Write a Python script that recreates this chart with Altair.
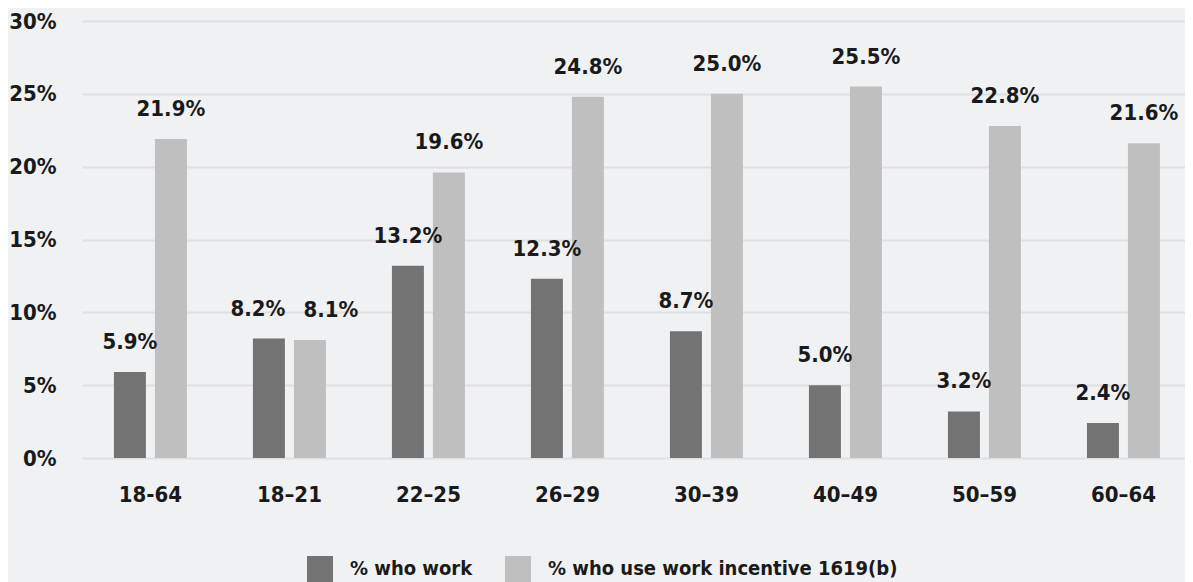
import altair as alt
import pandas as pd

categories = ["18-64", "18–21", "22–25", "26–29", "30–39", "40–49", "50–59", "60–64"]
series_names = ["% who work", "% who use work incentive 1619(b)"]
work = [5.9, 8.2, 13.2, 12.3, 8.7, 5.0, 3.2, 2.4]
incentive = [21.9, 8.1, 19.6, 24.8, 25.0, 25.5, 22.8, 21.6]

rows = []
for i, c in enumerate(categories):
    rows.append({"age": c, "series": series_names[0], "value": work[i]})
    rows.append({"age": c, "series": series_names[1], "value": incentive[i]})
df = pd.DataFrame(rows)

FONT = "Liberation Sans Narrow, DejaVu Sans Condensed, sans-serif"
TXT = "#1a1a1a"

x_scale = alt.Scale(domain=categories, paddingInner=0.475, paddingOuter=0.205, align=0.56)
off_scale = alt.Scale(domain=series_names, paddingInner=0.22, paddingOuter=0)
color_scale = alt.Scale(domain=series_names, range=["#737373", "#bfbfbf"])

base = alt.Chart(df).encode(
    x=alt.X("age:N", scale=x_scale, sort=categories,
            axis=alt.Axis(title=None, labelAngle=0, ticks=False, domain=False,
                          labelFont=FONT, labelFontSize=22, labelFontWeight="bold",
                          labelColor=TXT, labelPadding=26, grid=False)),
    xOffset=alt.XOffset("series:N", scale=off_scale, sort=series_names),
)

bars = base.mark_bar().encode(
    y=alt.Y("value:Q", scale=alt.Scale(domain=[0, 30], nice=False),
            axis=alt.Axis(title=None, values=[0, 5, 10, 15, 20, 25, 30],
                          labelExpr="datum.value + '%'", ticks=False, domain=False,
                          labelFont=FONT, labelFontSize=22, labelFontWeight="bold",
                          labelColor=TXT, labelPadding=26,
                          gridColor="#dfe0e2", gridWidth=2)),
    color=alt.Color("series:N", scale=color_scale, sort=series_names,
                    legend=alt.Legend(title=None, orient="none", direction="horizontal",
                                      legendX=225, legendY=535,
                                      symbolType="square", symbolSize=676,
                                      symbolStrokeWidth=0, symbolOpacity=1,
                                      labelFont=FONT, labelFontSize=20,
                                      labelFontWeight="bold", labelColor=TXT,
                                      labelOffset=17, columnPadding=32, labelLimit=0)),
)

def label_layer(filter_expr, dx):
    return base.mark_text(baseline="alphabetic", dy=-23, dx=dx, font=FONT, fontSize=22,
                          fontWeight="bold", color=TXT).encode(
        y=alt.Y("value:Q"),
        text=alt.Text("label:N"),
    ).transform_calculate(
        label="format(datum.value, '.1f') + '%'"
    ).transform_filter(filter_expr)

lbl_main = label_layer("datum.age !== '18–21'", 0)
lbl_a = label_layer("datum.age === '18–21' && datum.series === '% who work'", -11)
lbl_b = label_layer("datum.age === '18–21' && datum.series !== '% who work'", 21)

chart = alt.layer(bars, lbl_main, lbl_a, lbl_b).properties(
    width=1103, height=437,
    padding={"left": 74, "top": 13, "right": 0, "bottom": 124},
    autosize=alt.AutoSizeParams(type="none"),
    background="#f0f1f3",
).configure_view(stroke=None)

chart.save("out.html", embed_options={"renderer": "svg", "actions": False})
